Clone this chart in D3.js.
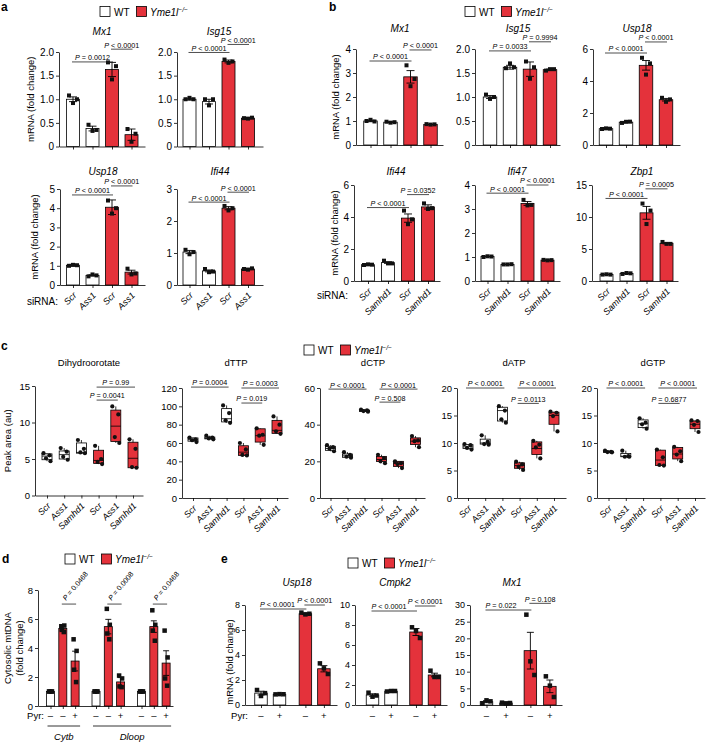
<!DOCTYPE html>
<html><head><meta charset="utf-8">
<script src="https://cdn.jsdelivr.net/npm/d3@7"></script>
<style>body{margin:0;background:#fff}</style>
</head><body><script>
// ================= DATA =================
// categories
const geno4 = ["WT","WT","KO","KO"];
const siRNA_a = ["Scr","Ass1","Scr","Ass1"];
const siRNA_b = ["Scr","Samhd1","Scr","Samhd1"];
const geno6 = ["WT","WT","WT","KO","KO","KO"];
const siRNA_c = ["Scr","Ass1","Samhd1","Scr","Ass1","Samhd1"];
const genoD = ["WT","KO","KO","WT","KO","KO","WT","KO","KO"];
const pyrD = ["–","–","+","–","–","+","–","–","+"];
const pyrE = ["–","+","–","+"];

// panel a
const aMx1Mean = [1.0, 0.38, 1.63, 0.25];
const aMx1Sem  = [0.05, 0.05, 0.15, 0.12];
const aMx1Pts  = [[1.08,0.92,1.0],[0.46,0.33,0.35],[1.78,1.42,1.70],[0.37,0.1,0.27]];
const aMx1P    = [{i:0,j:2,y:1.79,t:"= 0.0012"},{i:2,j:3,y:2.06,t:"< 0.0001"}];
const aIsg15Mean = [1.0, 0.95, 1.8, 0.6];
const aIsg15Sem  = [0.02, 0.05, 0.03, 0.01];
const aIsg15Pts  = [[1.0,1.03,1.0],[1.0,0.87,1.0],[1.84,1.77,1.8],[0.6,0.59,0.61]];
const aIsg15P    = [{i:0,j:2,y:1.99,t:"< 0.0001"},{i:2,j:3,y:2.16,t:"< 0.0001"}];
const aUsp18Mean = [1.03, 0.5, 4.05, 0.67];
const aUsp18Sem  = [0.04, 0.03, 0.38, 0.1];
const aUsp18Pts  = [[1.0,1.05,1.03],[0.45,0.55,0.5],[4.4,3.72,4.0],[0.85,0.55,0.6]];
const aUsp18P    = [{i:0,j:2,y:4.69,t:"< 0.0001"},{i:2,j:3,y:5.16,t:"< 0.0001"}];
const aIfi44Mean = [1.03, 0.44, 2.4, 0.5];
const aIfi44Sem  = [0.05, 0.03, 0.05, 0.02];
const aIfi44Pts  = [[1.1,0.96,1.03],[0.5,0.4,0.42],[2.47,2.33,2.4],[0.5,0.48,0.52]];
const aIfi44P    = [{i:0,j:2,y:2.59,t:"< 0.0001"},{i:2,j:3,y:2.9,t:"< 0.0001"}];

// panel b
const bMx1Mean = [1.0, 0.95, 2.84, 0.86];
const bMx1Sem  = [0.03, 0.02, 0.26, 0.01];
const bMx1Pts  = [[1.0,1.05,0.98],[0.97,0.93,0.95],[3.32,2.45,2.75],[0.87,0.85,0.86]];
const bMx1P    = [{i:0,j:2,y:3.5,t:"< 0.0001"},{i:2,j:3,y:3.96,t:"< 0.0001"}];
const bIsg15Mean = [1.0, 1.62, 1.58, 1.57];
const bIsg15Sem  = [0.03, 0.04, 0.15, 0.01];
const bIsg15Pts  = [[1.05,0.96,1.0],[1.6,1.7,1.62],[1.74,1.38,1.62],[1.55,1.58,1.58]];
const bIsg15P    = [{i:0,j:2,y:1.96,t:"= 0.0033"},{i:2,j:3,y:2.15,t:"= 0.9994"}];
const bUsp18Mean = [1.02, 1.43, 4.98, 2.83];
const bUsp18Sem  = [0.02, 0.03, 0.3, 0.08];
const bUsp18Pts  = [[1.0,1.04,1.02],[1.38,1.45,1.46],[5.45,4.4,5.1],[2.95,2.7,2.85]];
const bUsp18P    = [{i:0,j:2,y:5.75,t:"< 0.0001"},{i:2,j:3,y:6.44,t:"< 0.0001"}];
const bIfi44Mean = [1.02, 1.15, 3.93, 4.63];
const bIfi44Sem  = [0.02, 0.05, 0.26, 0.13];
const bIfi44Pts  = [[1.0,1.04,1.02],[1.27,1.1,1.1],[4.4,3.55,3.85],[4.85,4.5,4.55]];
const bIfi44P    = [{i:0,j:2,y:4.59,t:"< 0.0001"},{i:2,j:3,y:5.4,t:"= 0.0352"}];
const bIfi47Mean = [1.02, 0.69, 3.23, 0.87];
const bIfi47Sem  = [0.01, 0.01, 0.08, 0.01];
const bIfi47Pts  = [[1.0,1.03,1.02],[0.69,0.69,0.7],[3.38,3.15,3.17],[0.88,0.86,0.87]];
const bIfi47P    = [{i:0,j:2,y:3.66,t:"< 0.0001"},{i:2,j:3,y:4.0,t:"< 0.0001"}];
const bZbp1Mean = [1.02, 1.18, 10.65, 5.9];
const bZbp1Sem  = [0.05, 0.05, 1.0, 0.1];
const bZbp1Pts  = [[1.0,1.05,1.0],[1.1,1.25,1.2],[12.1,8.9,11.0],[6.1,5.8,5.8]];
const bZbp1P    = [{i:0,j:2,y:12.9,t:"< 0.0001"},{i:2,j:3,y:14.4,t:"= 0.0005"}];

// panel c (box plots: q1, median, q3, points)
const cDhoQ1 = [4.9, 5.0, 5.8, 4.4, 7.4, 3.8];
const cDhoMed = [5.4, 5.6, 5.9, 4.8, 9.5, 5.1];
const cDhoQ3 = [5.7, 6.1, 7.2, 6.2, 11.7, 7.3];
const cDhoPts = [[5.8,5.5,5.1,4.7],[6.5,6.0,5.3,4.9],[7.6,6.4,5.9,5.8],[6.8,5.0,4.6,4.3],[12.2,11.1,8.0,7.2],[7.7,6.4,3.9,3.8]];
const cDhoP = [{i:3,j:4,y:13.07,t:"= 0.0041"},{i:3,j:5,y:14.85,t:"= 0.99"}];
const cTTPQ1 = [62, 64.5, 83, 46.5, 61, 70.5];
const cTTPMed = [64, 65, 86.5, 50, 68, 73.8];
const cTTPQ3 = [65.5, 66.5, 97.5, 57, 75.5, 84.7];
const cTTPPts = [[66,64,63,61],[68,66,65,64],[101,92.7,84.7,82],[60,53,47,46.5],[76,69,68,58],[89,80,72.7,70]];
const cTTPP = [{i:0,j:2,y:121,t:"= 0.0004"},{i:3,j:5,y:120,t:"= 0.0003"},{i:3,j:4,y:103.6,t:"= 0.019"}];
const cCTPQ1 = [26, 22.2, 47.2, 19.9, 17.2, 29.2];
const cCTPMed = [27, 23, 47.6, 21, 18.8, 31];
const cCTPQ3 = [28.2, 24, 48, 22.7, 20, 32.8];
const cCTPPts = [[28.8,27.7,26.9,25.5],[25,23.5,22.5,22],[48.2,47.8,47.4,47.1],[23.6,21.8,20,19],[20,19,18.5,16.3],[33.8,31.4,31,27.7]];
const cCTPP = [{i:0,j:2,y:59.4,t:"< 0.0001"},{i:3,j:5,y:59.4,t:"< 0.0001"},{i:3,j:4,y:52.3,t:"= 0.508"}];
const cATPQ1 = [9.0, 9.8, 14.0, 5.4, 7.9, 13.4];
const cATPMed = [9.3, 10.0, 15.9, 5.9, 9.0, 15.0];
const cATPQ3 = [9.7, 10.7, 16.5, 6.4, 10.2, 15.6];
const cATPPts = [[9.8,9.6,9.1,8.8],[11.4,10.2,9.8,9.7],[16.7,15.9,14.3,13.7],[6.6,6.1,5.7,5.1],[10.4,9.7,9.2,7.2],[15.7,15.5,14.9,12.1]];
const cATPP = [{i:0,j:2,y:20,t:"< 0.0001"},{i:3,j:5,y:20,t:"< 0.0001"},{i:3,j:4,y:17.2,t:"= 0.0113"}];
const cGTPQ1 = [8.3, 7.5, 12.8, 5.9, 7.1, 12.6];
const cGTPMed = [8.4, 7.6, 13.5, 6.9, 8.0, 13.4];
const cGTPQ3 = [8.5, 8.1, 14.2, 8.7, 9.2, 14.0];
const cGTPPts = [[8.6,8.4,8.35,8.3],[8.6,7.6,7.5,7.5],[14.5,13.7,13.4,12.6],[8.8,7.4,6.0,5.9],[9.3,8.5,7.9,6.7],[14.1,14.0,13.3,12.0]];
const cGTPP = [{i:0,j:2,y:20,t:"< 0.0001"},{i:3,j:5,y:20,t:"< 0.0001"},{i:3,j:4,y:17.2,t:"= 0.6877"}];

// panel d
const dMean = [1, 5.35, 3.1, 1, 5.475, 1.66, 1, 5.475, 2.96];
const dSem  = [0, 0.12, 0.68, 0, 0.5, 0.3, 0, 0.4, 0.85];
const dPts  = [[1,1,1,1],[5.5,5.55,5.25,5.1],[4.6,3.8,2.5,1.65],[1,1,1,1],[6.7,5.6,5.0,4.6],[2.1,1.9,1.35,1.3],[1,1,1,1],[6.6,5.6,5.2,4.5],[5.2,3.35,1.9,1.4]];
const dP    = [{i:1,j:2,y:7.03,t:"= 0.0468"},{i:4,j:5,y:7.03,t:"= 0.0008"},{i:7,j:8,y:7.03,t:"= 0.0468"}];
const dGroups = ["Cytb","Dloop"];

// panel e
const eUsp18Mean = [0.95, 0.86, 7.3, 2.9];
const eUsp18Sem  = [0.15, 0.01, 0.05, 0.25];
const eUsp18Pts  = [[1.2,0.72,0.95],[0.85,0.87,0.86],[7.39,7.25,7.3],[3.33,2.93,2.48]];
const eUsp18P    = [{i:0,j:2,y:7.68,t:"< 0.0001"},{i:2,j:3,y:8.0,t:"< 0.0001"}];
const eCmpk2Mean = [1.0, 1.38, 7.3, 3.0];
const eCmpk2Sem  = [0.12, 0.02, 0.35, 0.18];
const eCmpk2Pts  = [[1.23,0.83,0.95],[1.35,1.4,1.4],[7.77,7.4,6.7],[3.43,2.8,2.8]];
const eCmpk2P    = [{i:0,j:2,y:9.4,t:"< 0.0001"},{i:2,j:3,y:9.9,t:"< 0.0001"}];
const eMx1Mean = [1.0, 0.6, 16.3, 5.6];
const eMx1Sem  = [0.3, 0.1, 5.5, 1.9];
const eMx1Pts  = [[0.5,1.4,1.1],[0.7,0.5,0.6],[27.1,13.1,9.0],[8.6,5.8,2.4]];
const eMx1P    = [{i:0,j:2,y:28.5,t:"= 0.022"},{i:2,j:3,y:30.5,t:"= 0.108"}];

// tick values
const t2 = [0,0.5,1,1.5,2];
const t3 = [0,1,2,3];
const t4 = [0,1,2,3,4];
const t5 = [0,1,2,3,4,5];
const t6 = [0,2,4,6];
const t8 = [0,2,4,6,8];
const t10 = [0,2,4,6,8,10];
const t15 = [0,5,10,15];
const t20 = [0,5,10,15,20];
const t30 = [0,5,10,15,20,25,30];
const t60 = [0,20,40,60];
const t120 = [0,20,40,60,80,100,120];

// ================= DRAWING =================
const FONT = '"Liberation Sans", Arial, Helvetica, sans-serif';
const RED = "#e4323b";
const svg = d3.select("body").append("svg").attr("width",706).attr("height",743)
  .style("font-family",FONT);
const fmt1 = d => d===0 ? "0" : d.toFixed(1);

function styleAxis(sel, fs){
  sel.attr("font-family",FONT).attr("font-size",fs);
  sel.select(".domain").attr("stroke","#000").attr("stroke-width",0.8);
  sel.selectAll(".tick line").attr("stroke","#000").attr("stroke-width",0.8);
  sel.selectAll(".tick text").attr("fill","#000");
}
function pLabel(g, x, y, txt, anchor, transform){
  const t = g.append("text").attr("font-size",7.2).attr("text-anchor",anchor||"middle").attr("fill","#000");
  if (transform) t.attr("transform",transform); else t.attr("x",x).attr("y",y);
  t.append("tspan").attr("font-style","italic").text("P");
  t.append("tspan").text(" "+txt);
}
function frame(L){
  const g = svg.append("g");
  const x = d3.scaleLinear().domain([(L.ax-L.c0)/L.step,(L.ae-L.c0)/L.step]).range([L.ax,L.ae]);
  const y = d3.scaleLinear().domain([0,L.max]).range([L.bottom,L.top]);
  g.append("g").attr("transform",`translate(0,${L.bottom})`)
    .call(d3.axisBottom(x).tickValues(L.pos).tickFormat("").tickSize(3).tickSizeOuter(0))
    .call(s=>styleAxis(s,9));
  g.append("g").attr("transform",`translate(${L.ax},0)`)
    .call(d3.axisLeft(y).tickValues(L.ticks).tickFormat(L.fmt||(d=>d)).tickSize(3).tickSizeOuter(0).tickPadding(2))
    .call(s=>styleAxis(s,L.tfs||10));
  if (L.title) g.append("text").attr("x",L.tx).attr("y",L.ty).attr("text-anchor","middle")
    .attr("font-size",L.titleSize||10).attr("font-style",L.titleItalic===false?"normal":"italic").text(L.title);
  if (L.ylab){
    const yc = L.ylc || (L.top+L.bottom)/2;
    L.ylab.forEach((s,k)=>{
      g.append("text").attr("transform",`translate(${L.ylx[k]},${yc}) rotate(-90)`)
        .attr("text-anchor","middle").attr("dy","0.35em").attr("font-size",L.ylfs||9.5).text(s);
    });
  }
  return {g,x,y};
}
function annots(g,x,y,L,A){
  A.forEach((a,k)=>{
    const yy = y(a.y);
    const ext = L.annExt===undefined ? 1 : L.annExt;
    const x1 = x(L.pos[a.i])-ext, x2 = x(L.pos[a.j])+ext;
    g.append("line").attr("x1",x1).attr("x2",x2).attr("y1",yy).attr("y2",yy)
      .attr("stroke","#222").attr("stroke-width",0.8);
    const al = L.annAlign ? L.annAlign[k] : "middle";
    if (L.annRot) pLabel(g,0,0,a.t,"start",`translate(${(x1+x2)/2-3},${yy-3}) rotate(-50)`);
    else if (al==="start") pLabel(g,x1,yy-1.6,a.t,"start");
    else pLabel(g,(x1+x2)/2,yy-1.6,a.t);
  });
}
function barPanel(L, mean, sem, pts, geno, P){
  const {g,x,y} = frame(L);
  mean.forEach((m,i)=>{
    const cx = x(L.pos[i]);
    g.append("rect").attr("x",cx-L.bw/2).attr("y",y(m)).attr("width",L.bw).attr("height",y(0)-y(m))
      .attr("fill",geno[i]==="WT"?"#fff":RED).attr("stroke","#000").attr("stroke-width",0.8);
  });
  mean.forEach((m,i)=>{
    const cx = x(L.pos[i]), e = sem[i];
    if (e<=0) return;
    const cw = L.cap||4;
    g.append("line").attr("x1",cx).attr("x2",cx).attr("y1",y(m-e)).attr("y2",y(m+e)).attr("stroke","#000").attr("stroke-width",0.9);
    [m-e,m+e].forEach(v=>g.append("line").attr("x1",cx-cw).attr("x2",cx+cw).attr("y1",y(v)).attr("y2",y(v)).attr("stroke","#000").attr("stroke-width",0.9));
  });
  pts.forEach((arr,i)=>{
    const cx = x(L.pos[i]);
    arr.forEach((v,k)=>{
      g.append("rect").attr("x",cx+L.poff[k]-L.ps/2).attr("y",y(v)-L.ps/2)
        .attr("width",L.ps).attr("height",L.ps).attr("fill","#111");
    });
  });
  annots(g,x,y,L,P);
  return {g,x,y};
}
function boxPanel(L, q1, med, q3, pts, P){
  const {g,x,y} = frame(L);
  q1.forEach((q,i)=>{
    const cx = x(L.pos[i]);
    const lo = d3.min(pts[i]), hi = d3.max(pts[i]);
    g.append("line").attr("x1",cx).attr("x2",cx).attr("y1",y(lo)).attr("y2",y(hi)).attr("stroke","#000").attr("stroke-width",0.8);
    g.append("rect").attr("x",cx-L.bw/2).attr("y",y(q3[i])).attr("width",L.bw).attr("height",Math.max(0.5,y(q)-y(q3[i])))
      .attr("fill",geno6[i]==="WT"?"#fff":RED).attr("stroke","#000").attr("stroke-width",0.8);
    g.append("line").attr("x1",cx-L.bw/2).attr("x2",cx+L.bw/2).attr("y1",y(med[i])).attr("y2",y(med[i])).attr("stroke","#000").attr("stroke-width",0.8);
    pts[i].forEach((v,k)=>{
      g.append("circle").attr("cx",cx+L.poff[k]).attr("cy",y(v)).attr("r",2.1).attr("fill","#111");
    });
  });
  annots(g,x,y,L,P);
  rotLabels(g,x,L,siRNA_c,9);
  return {g,x,y};
}
function rotLabels(g,x,L,labels,fs){
  labels.forEach((t,i)=>{
    g.append("text").attr("transform",`translate(${x(L.pos[i])+4},${L.bottom+11}) rotate(-45)`)
      .attr("text-anchor","end").attr("font-size",fs).attr("font-style","italic").text(t);
  });
}
function legend(x0,y0){
  const g = svg.append("g");
  g.append("rect").attr("x",x0).attr("y",y0).attr("width",10).attr("height",10).attr("fill","#fff").attr("stroke","#000").attr("stroke-width",0.8);
  g.append("text").attr("x",x0+14).attr("y",y0+9).attr("font-size",10).text("WT");
  g.append("rect").attr("x",x0+36.5).attr("y",y0).attr("width",10).attr("height",10).attr("fill",RED).attr("stroke","#000").attr("stroke-width",0.8);
  const t = g.append("text").attr("x",x0+50).attr("y",y0+9).attr("font-size",10).attr("font-style","italic");
  t.append("tspan").text("Yme1l");
  t.append("tspan").attr("dy",-4).attr("font-size",6.5).text("−/−");
}
function panelLabel(s,x,y){
  svg.append("text").attr("x",x).attr("y",y).attr("font-size",12).attr("font-weight","bold").text(s);
}

const pos4 = [0,1,2,3];
const pos6 = [0,1,2,3,4,5];
const po3 = [-4,0,4];

// ---------- panel a ----------
panelLabel("a",1,11); legend(100,6.5);
const aRow1 = {top:52,bottom:146.5,max:2,ticks:t2,fmt:fmt1,pos:pos4,step:19.5,bw:13,ps:4,poff:po3,ty:35};
barPanel({...aRow1,ax:59,ae:145,c0:73,title:"Mx1",tx:102,ylab:["mRNA (fold change)"],ylx:[31]},aMx1Mean,aMx1Sem,aMx1Pts,geno4,aMx1P);
barPanel({...aRow1,ax:177,ae:263,c0:189.5,title:"Isg15",tx:219},aIsg15Mean,aIsg15Sem,aIsg15Pts,geno4,aIsg15P);
const aRow2 = {top:189,bottom:285,pos:pos4,step:19.5,bw:13,ps:4,poff:po3,ty:175};
const au = barPanel({...aRow2,ax:60,ae:145,c0:73,max:5,ticks:t5,title:"Usp18",tx:103,ylab:["mRNA (fold change)"],ylx:[35]},aUsp18Mean,aUsp18Sem,aUsp18Pts,geno4,aUsp18P);
rotLabels(au.g,au.x,{...aRow2},siRNA_a,9);
const ai = barPanel({...aRow2,ax:177,ae:263,c0:189.5,max:3,ticks:t3,title:"Ifi44",tx:220},aIfi44Mean,aIfi44Sem,aIfi44Pts,geno4,aIfi44P);
rotLabels(ai.g,ai.x,{...aRow2},siRNA_a,9);
svg.append("text").attr("x",58).attr("y",305).attr("text-anchor","end").attr("font-size",10).text("siRNA:");

// ---------- panel b ----------
panelLabel("b",329,11); legend(465,6.5);
const bRow1 = {top:49,bottom:145,pos:pos4,step:20,bw:13.5,ps:4,poff:po3,ty:32};
barPanel({...bRow1,ax:356,ae:443,c0:370.5,max:4,ticks:t4,title:"Mx1",tx:400,ylab:["mRNA (fold change)"],ylx:[336]},bMx1Mean,bMx1Sem,bMx1Pts,geno4,bMx1P);
barPanel({...bRow1,ax:475,ae:560,c0:490,max:2,ticks:t2,fmt:fmt1,title:"Isg15",tx:518},bIsg15Mean,bIsg15Sem,bIsg15Pts,geno4,bIsg15P);
barPanel({...bRow1,ax:593,ae:680,c0:606,max:6,ticks:t6,title:"Usp18",tx:637},bUsp18Mean,bUsp18Sem,bUsp18Pts,geno4,bUsp18P);
const bRow2 = {top:185,bottom:281,pos:pos4,step:20,bw:13,ps:4,poff:po3,ty:174.5};
const b1 = barPanel({...bRow2,ax:354,ae:440,c0:368,max:6,ticks:t6,title:"Ifi44",tx:396,ylab:["mRNA (fold change)"],ylx:[335]},bIfi44Mean,bIfi44Sem,bIfi44Pts,geno4,bIfi44P);
rotLabels(b1.g,b1.x,bRow2,siRNA_b,9);
const b2 = barPanel({...bRow2,ax:475,ae:560,c0:487.5,max:4,ticks:t4,title:"Ifi47",tx:517},bIfi47Mean,bIfi47Sem,bIfi47Pts,geno4,bIfi47P);
rotLabels(b2.g,b2.x,bRow2,siRNA_b,9);
const b3 = barPanel({...bRow2,ax:592,ae:678,c0:606.5,max:15,ticks:t15,title:"Zbp1",tx:642},bZbp1Mean,bZbp1Sem,bZbp1Pts,geno4,bZbp1P);
rotLabels(b3.g,b3.x,bRow2,siRNA_b,9);
svg.append("text").attr("x",348).attr("y",299).attr("text-anchor","end").attr("font-size",10).text("siRNA:");

// ---------- panel c ----------
panelLabel("c",1,350); legend(304,345);
const cBase = {pos:pos6,bw:10,poff:[-3.5,2.5,-1,3.5],tfs:9.5,titleItalic:false,titleSize:9.5,ty:366,annExt:2};
boxPanel({...cBase,ax:35,ae:143,c0:47,step:17.2,top:386,bottom:495.5,max:15,ticks:t15,title:"Dihydroorotate",tx:89,ylab:["Peak area (au)"],ylx:[8]},cDhoQ1,cDhoMed,cDhoQ3,cDhoPts,cDhoP);
boxPanel({...cBase,ax:182,ae:288,c0:193,step:16.8,top:388,bottom:498,max:120,ticks:t120,title:"dTTP",tx:236},cTTPQ1,cTTPMed,cTTPQ3,cTTPPts,cTTPP);
boxPanel({...cBase,ax:320,ae:425,c0:330.5,step:17,top:388,bottom:498,max:60,ticks:t60,title:"dCTP",tx:373},cCTPQ1,cCTPMed,cCTPQ3,cCTPPts,cCTPP);
boxPanel({...cBase,ax:457,ae:566,c0:468,step:17.2,top:388,bottom:498,max:20,ticks:t20,title:"dATP",tx:514},cATPQ1,cATPMed,cATPQ3,cATPPts,cATPP);
boxPanel({...cBase,ax:597,ae:705,c0:608.5,step:17.3,top:388,bottom:498,max:20,ticks:t20,title:"dGTP",tx:653},cGTPQ1,cGTPMed,cGTPQ3,cGTPPts,cGTPP);

// ---------- panel d ----------
panelLabel("d",2,563); legend(65,554);
const dL = {ax:38,ae:173,c0:50.5,step:12.3,pos:[0,1,2,3.7,4.7,5.7,7.4,8.4,9.4],top:590,bottom:706,max:8,ticks:t8,
  bw:8,ps:4.5,poff:[-1.5,1.5,-1,1],cap:3,tfs:9.5,annRot:true,annExt:1,
  ylab:["Cytosolic mtDNA","(fold change)"],ylx:[8,20]};
const dd = barPanel(dL,dMean,dSem,dPts,genoD,dP);
pyrD.forEach((s,i)=>dd.g.append("text").attr("x",dd.x(dL.pos[i])).attr("y",719).attr("text-anchor","middle").attr("font-size",9.5).text(s));
dd.g.append("text").attr("x",44).attr("y",719).attr("text-anchor","end").attr("font-size",9.5).text("Pyr:");
[[0,2],[3,8]].forEach((r,k)=>{
  const x1 = dd.x(dL.pos[r[0]])-3, x2 = dd.x(dL.pos[r[1]])+5;
  dd.g.append("line").attr("x1",x1).attr("x2",x2).attr("y1",726).attr("y2",726).attr("stroke","#000").attr("stroke-width",0.8);
  dd.g.append("text").attr("x",(x1+x2)/2).attr("y",740).attr("text-anchor","middle").attr("font-size",9.5).attr("font-style","italic").text(dGroups[k]);
});

// ---------- panel e ----------
panelLabel("e",221,563); legend(348,558);
const eBase = {top:605,bottom:705,bw:12.5,ps:4.5,poff:po3,tfs:9,ty:586,cap:3.5,annAlign:["start","middle"]};
const e1L = {...eBase,ax:245,ae:337,c0:261,step:18.5,pos:[0,1,2.4,3.4],max:8,ticks:t8,title:"Usp18",tx:297,ylab:["mRNA (fold change)"],ylx:[230],ylc:662};
const e1 = barPanel(e1L,eUsp18Mean,eUsp18Sem,eUsp18Pts,geno4,eUsp18P);
const e2L = {...eBase,ax:355,ae:447,c0:372.5,step:18.5,pos:[0,1,2.35,3.35],max:10,ticks:t10,title:"Cmpk2",tx:395};
const e2 = barPanel(e2L,eCmpk2Mean,eCmpk2Sem,eCmpk2Pts,geno4,eCmpk2P);
const e3L = {...eBase,ax:470,ae:562,c0:486.5,step:19.5,pos:[0,1,2.25,3.25],max:30,ticks:t30,title:"Mx1",tx:512};
const e3 = barPanel(e3L,eMx1Mean,eMx1Sem,eMx1Pts,geno4,eMx1P);
[[e1,e1L],[e2,e2L],[e3,e3L]].forEach(([p,L])=>{
  pyrE.forEach((s,i)=>p.g.append("text").attr("x",p.x(L.pos[i])).attr("y",719).attr("text-anchor","middle").attr("font-size",9.5).text(s));
});
svg.append("text").attr("x",248).attr("y",719).attr("text-anchor","end").attr("font-size",9.5).text("Pyr:");
</script></body></html>
